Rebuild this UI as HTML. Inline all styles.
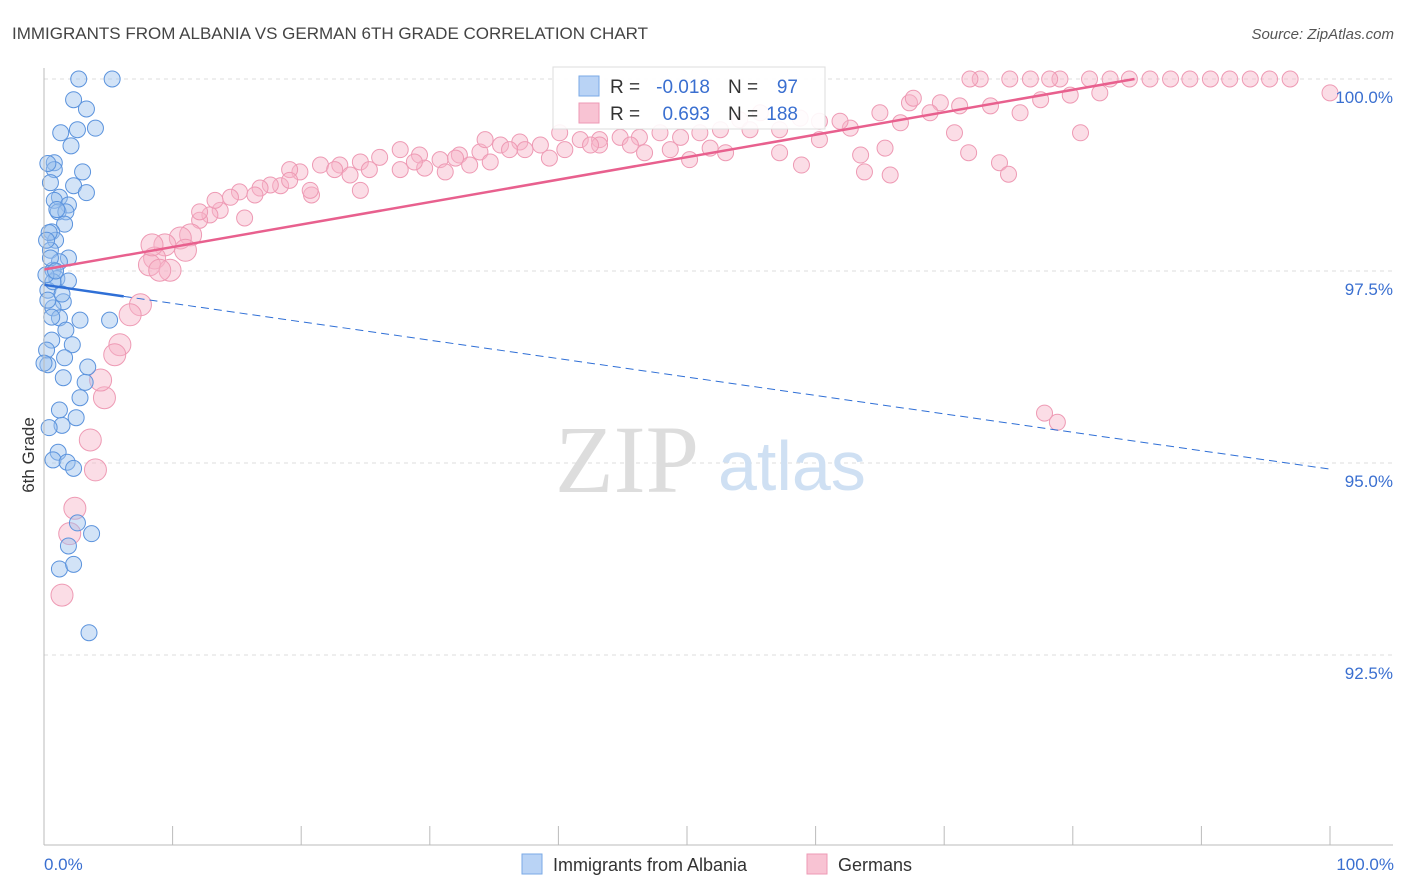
<!DOCTYPE html>
<html><head><meta charset="utf-8"><style>
body{margin:0;background:#fff;font-family:"Liberation Sans",sans-serif}
#c{position:absolute;left:0;top:0}
</style></head><body>
<svg id="c" width="1406" height="892">
<text x="12" y="39" font-size="17" fill="#444">IMMIGRANTS FROM ALBANIA VS GERMAN 6TH GRADE CORRELATION CHART</text>
<text x="1394" y="39" font-size="15" fill="#555" font-style="italic" text-anchor="end">Source: ZipAtlas.com</text>
<g id="grid"></g>
<text x="555" y="492" font-size="96" font-family="Liberation Serif,serif" fill="#ddd">ZIP</text>
<text x="718" y="490" font-size="70" fill="#cfe0f3">atlas</text>
<g id="pts"></g>
<g id="axes"></g>
<text transform="translate(34,455) rotate(-90)" font-size="17" fill="#333" text-anchor="middle">6th Grade</text>
<g>
<rect x="553" y="67" width="272" height="62" fill="#fff" fill-opacity="0.9" stroke="#ddd"/>
<rect x="579" y="76" width="20" height="20" fill="#b9d3f5" stroke="#7aa9e6"/>
<rect x="579" y="103" width="20" height="20" fill="#f8c3d3" stroke="#ee9ab4"/>
<text x="610" y="93" font-size="19" fill="#333">R =</text><text x="710" y="93" font-size="19" fill="#3a6fd0" text-anchor="end">-0.018</text>
<text x="728" y="93" font-size="19" fill="#333">N =</text><text x="798" y="93" font-size="19" fill="#3a6fd0" text-anchor="end">97</text>
<text x="610" y="120" font-size="19" fill="#333">R =</text><text x="710" y="120" font-size="19" fill="#3a6fd0" text-anchor="end">0.693</text>
<text x="728" y="120" font-size="19" fill="#333">N =</text><text x="798" y="120" font-size="19" fill="#3a6fd0" text-anchor="end">188</text>
</g>
<g>
<rect x="522" y="854" width="20" height="20" fill="#b9d3f5" stroke="#7aa9e6"/>
<text x="553" y="871" font-size="18" fill="#333">Immigrants from Albania</text>
<rect x="807" y="854" width="20" height="20" fill="#f8c3d3" stroke="#ee9ab4"/>
<text x="838" y="871" font-size="18" fill="#333">Germans</text>
</g>
</svg>
<script>
const yTicks=[100,97.5,95,92.5];
const yTickLabels=["100.0%","97.5%","95.0%","92.5%"];
const xLabels=["0.0%","100.0%"];
const blueX=[2.7,5.3,2.3,3.3,1.3,4.0,2.6,2.1,0.8,3.0,0.8,0.5,2.3,3.3,1.2,0.8,1.9,1.1,1.7,1.6,0.6,0.9,0.5,1.9,1.2,0.7,1.0,1.9,0.3,1.5,0.7,1.2,2.8,5.1,0.6,2.2,0.2,1.6,0.3,3.4,1.5,3.2,2.8,1.2,2.5,1.4,0.4,1.1,0.7,1.8,2.3,2.6,3.7,1.9,1.2,2.3,3.5,0,0.7,0.5,0.15,0.3,1.7,0.4,1.0,0.2,0.9,1.4,0.6,0.3];
const blueY=[100,100,99.73,99.61,99.3,99.36,99.34,99.13,98.91,98.79,98.82,98.65,98.61,98.52,98.46,98.42,98.36,98.27,98.27,98.11,98.01,97.9,97.77,97.67,97.62,97.51,97.4,97.37,97.25,97.1,97.02,96.89,96.86,96.86,96.6,96.54,96.47,96.37,96.28,96.25,96.11,96.05,95.85,95.69,95.59,95.49,95.46,95.14,95.04,95.01,94.93,94.22,94.08,93.92,93.62,93.68,92.79,96.3,97.36,97.67,97.45,97.12,96.73,98.0,98.3,97.9,97.5,97.2,96.9,98.9];
const pinkX=[100,96.9,95.3,93.8,92.2,90.7,89.1,87.6,86.0,84.4,82.9,81.3,79.0,78.2,76.7,75.1,72.8,72.0,82.1,79.8,77.5,75.9,73.6,71.2,69.7,67.3,67.6,68.9,66.6,65.0,62.7,61.9,60.3,58.8,55.7,54.1,52.6,51.0,49.5,47.9,46.3,44.8,43.2,41.7,40.1,38.6,37.0,35.5,33.9,32.3,30.8,29.2,27.7,26.1,24.6,23.0,21.5,19.9,19.1,18.4,17.6,16.8,15.2,14.5,13.7,12.9,12.1,11.4,10.6,9.4,8.6,8.2,9.8,7.5,6.7,5.9,5.5,4.7,4.4,4.0,3.6,2.4,2.0,1.4,80.6,74.3,75.0,71.9,70.8,65.8,63.8,63.5,58.9,57.2,53.0,50.2,46.7,43.2,39.3,37.4,34.7,33.1,31.2,29.6,27.7,24.6,20.8,19.1,15.6,77.8,78.8,65.4,60.3,57.2,54.9,51.8,48.7,45.6,42.5,40.5,36.2,34.3,32.0,28.8,25.3,23.8,22.6,20.7,16.4,13.3,12.1,11.0,9.0,8.4];
const pinkY=[99.82,100,100,100,100,100,100,100,100,100,100,100,100,100,100,100,100,100,99.82,99.79,99.73,99.56,99.65,99.65,99.69,99.69,99.75,99.56,99.43,99.56,99.36,99.45,99.45,99.49,99.56,99.47,99.34,99.3,99.24,99.3,99.24,99.24,99.21,99.21,99.3,99.14,99.18,99.14,99.05,99.01,98.95,99.01,99.08,98.98,98.92,98.88,98.88,98.79,98.82,98.61,98.62,98.58,98.53,98.46,98.29,98.23,98.16,97.97,97.93,97.84,97.67,97.58,97.51,97.06,96.93,96.54,96.41,95.85,96.08,94.91,95.3,94.41,94.08,93.28,99.3,98.91,98.76,99.04,99.3,98.75,98.79,99.01,98.88,99.04,99.04,98.95,99.04,99.14,98.97,99.08,98.92,98.88,98.79,98.84,98.82,98.55,98.49,98.68,98.19,95.65,95.53,99.1,99.21,99.34,99.34,99.1,99.08,99.14,99.14,99.08,99.08,99.21,98.97,98.92,98.82,98.75,98.82,98.55,98.49,98.42,98.27,97.77,97.51,97.84];
const blueTrend=[[0,97.32],[6.2,97.17],[100,94.92]];
const pinkTrend=[[0,97.52],[84.8,100]];
const X0=44,X1=1330,Y100=79,PX_PER=76.8;
const sx=v=>X0+(X1-X0)*v/100, sy=v=>Y100+(100-v)*PX_PER;
const NS="http://www.w3.org/2000/svg";
function mk(p,t,a){const e=document.createElementNS(NS,t);for(const k in a)e.setAttribute(k,a[k]);p.appendChild(e);return e;}
const grid=document.getElementById('grid'),axes=document.getElementById('axes'),pts=document.getElementById('pts');
yTicks.forEach((t,i)=>{
 const l=mk(grid,'line',{x1:X0,x2:1393,y1:sy(t),y2:sy(t),stroke:'#ddd','stroke-dasharray':'4,4'});
 
 
 const tx=mk(axes,'text',{x:1393,y:sy(t)+24,'font-size':17,fill:'#3a6fd0','text-anchor':'end'});
 tx.textContent=yTickLabels[i];
 
 
});
mk(axes,'line',{x1:X0,x2:X0,y1:68,y2:845,stroke:'#bbb'});
mk(axes,'line',{x1:X0,x2:1393,y1:845,y2:845,stroke:'#bbb'});
for(let i=0;i<=10;i++){const x=sx(i*10);const t=mk(axes,'line',{x1:x,x2:x,y1:826,y2:845,stroke:'#bbb'});
 
 }
[[44,'start'],[1394,'end']].forEach((p,i)=>{const t=mk(axes,'text',{x:p[0],y:870,'font-size':17,fill:'#3a6fd0','text-anchor':p[1]});t.textContent=xLabels[i];
 
 });
pinkX.forEach((x,i)=>{const r=x<12?11:8;const c=mk(pts,'circle',{cx:sx(x),cy:sy(pinkY[i]),r:r,fill:'#f6b4c8','fill-opacity':0.45,stroke:'#ee9ab4','stroke-width':1});
 
 });
blueX.forEach((x,i)=>{const c=mk(pts,'circle',{cx:sx(x),cy:sy(blueY[i]),r:8,fill:'#9cc0ee','fill-opacity':0.45,stroke:'#5b93dd','stroke-width':1});
 
 });
const bt1=mk(pts,'line',{x1:sx(blueTrend[0][0]),y1:sy(blueTrend[0][1]),x2:sx(blueTrend[1][0]),y2:sy(blueTrend[1][1]),stroke:'#2f6fd6','stroke-width':2.5});


const bt2=mk(pts,'line',{x1:sx(blueTrend[1][0]),y1:sy(blueTrend[1][1]),x2:sx(blueTrend[2][0]),y2:sy(blueTrend[2][1]),stroke:'#2f6fd6','stroke-width':1,'stroke-dasharray':'8,5'});


const pt=mk(pts,'line',{x1:sx(pinkTrend[0][0]),y1:sy(pinkTrend[0][1]),x2:sx(pinkTrend[1][0]),y2:sy(pinkTrend[1][1]),stroke:'#e8608e','stroke-width':2.5});


</script>
</body></html>
